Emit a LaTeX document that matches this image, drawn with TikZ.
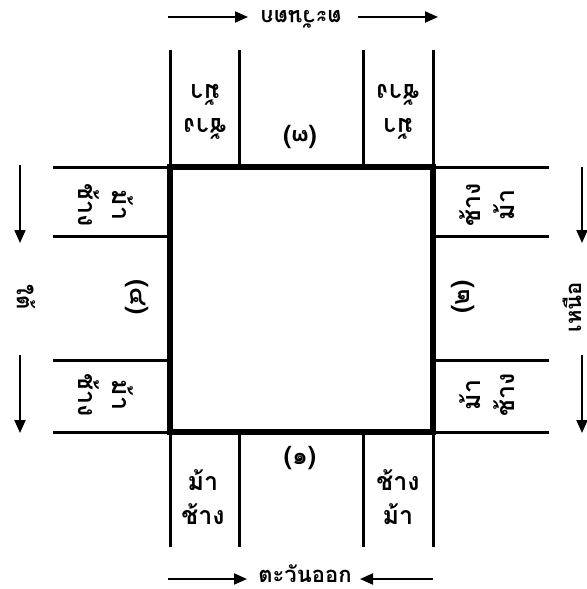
\documentclass[tikz,border=0pt]{standalone}
\usepackage{fontspec}
\newfontfamily\thaifont[Script=Thai]{Loma}
\usetikzlibrary{arrows.meta}
\tikzset{
  wall/.style={black, line width=3.2pt},
  lane/.style={black, line width=1.5pt},
  dir/.style={black, line width=1pt, -{Triangle[length=6.5pt,width=5.5pt]}},
  lbl/.style={font=\thaifont\bfseries\fontsize{12.5}{17}\selectfont, align=center, inner sep=0pt},
  side/.style={font=\thaifont\bfseries\fontsize{11}{14}\selectfont, inner sep=0pt}
}
\begin{document}
\begin{tikzpicture}[x=0.5pt, y=-0.5pt]
            \useasboundingbox (0,0) rectangle (586,589);
            % lanes round the square
            \foreach \x in {170,239,363,433} {
                \draw[lane] (\x,50) -- (\x,167);
                \draw[lane] (\x,432) -- (\x,547);
            }
            \foreach \y in {167,236,360,432} {
                \draw[lane] (53,\y) -- (170,\y);
                \draw[lane] (433,\y) -- (549,\y);
            }
            \draw[wall] (170,167) rectangle (433,432);

            % top side
            \node[lbl, rotate=180] (topA) at (205,112) {ช้าง\\ม้า};
            \node[lbl, rotate=180] (topB) at (398,112) {ม้า\\ช้าง};
            \node[lbl, rotate=180] (topNum) at (300,137) {(๓)};
            \node[side, rotate=180] (west) at (301,19) {ตะวันตก};
            \draw[dir] (168,17) -- (248,17);
            \draw[dir] (358,17) -- (438,17);

            % bottom side
            \node[lbl] (botA) at (203,497) {ม้า\\ช้าง};
            \node[lbl] (botB) at (398,497) {ช้าง\\ม้า};
            \node[lbl] (botNum) at (300,458) {(๑)};
            \node[side, anchor=base] (east) at (305,582) {ตะวันออก};
            \draw[dir] (168,579) -- (247,579);
            \draw[dir] (433,579) -- (360,579);

            % left side
            \node[lbl, rotate=-90] (leftA) at (106,205) {ม้า\\ช้าง};
            \node[lbl, rotate=-90] (leftB) at (106,395) {ม้า\\ช้าง};
            \node[lbl, rotate=-90] (leftNum) at (137,297) {(๔)};
            \node[side, rotate=-90] (south) at (26,297) {ใต้};
            \draw[dir] (20,165) -- (20,243);
            \draw[dir] (20,355) -- (20,433);

            % right side
            \node[lbl, rotate=90] (rightA) at (487,205) {ช้าง\\ม้า};
            \node[lbl, rotate=90] (rightB) at (487,395) {ม้า\\ช้าง};
            \node[lbl, rotate=90] (rightNum) at (463,297) {(๒)};
            \node[side, rotate=90] (north) at (572,307) {เหนือ};
            \draw[dir] (582,167) -- (582,243);
            \draw[dir] (582,355) -- (582,433);
\end{tikzpicture}
\end{document}
